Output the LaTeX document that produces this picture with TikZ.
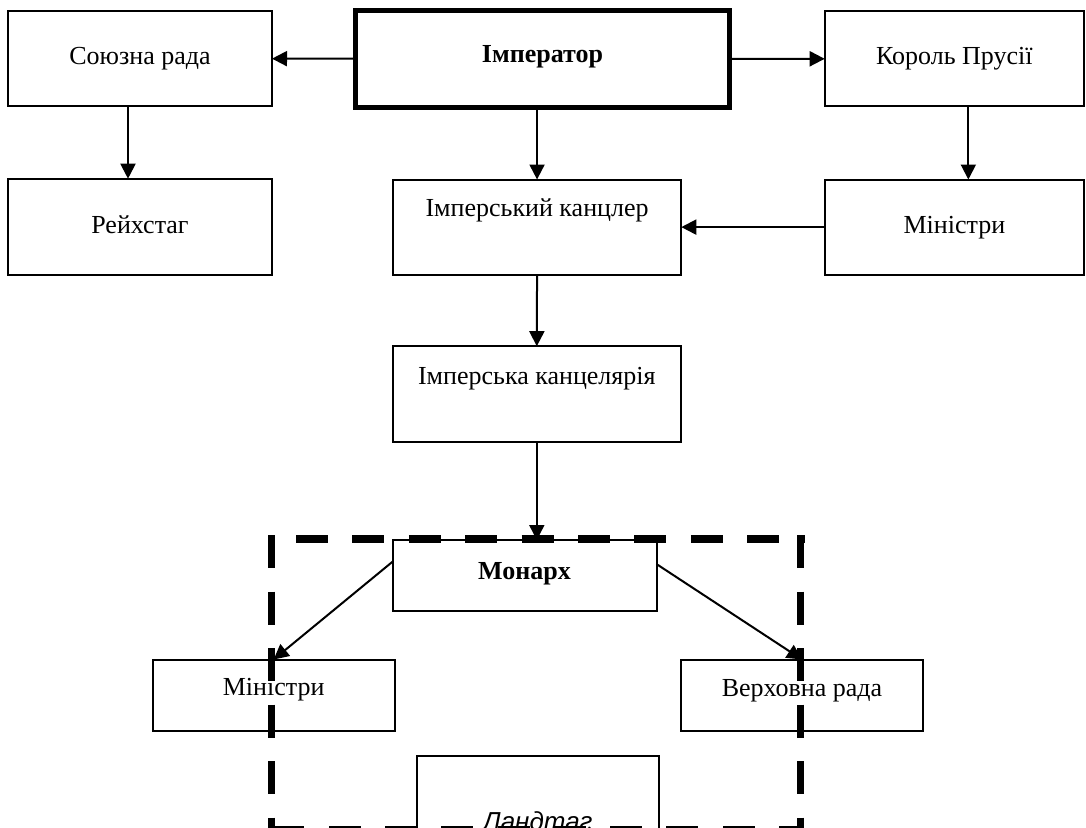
\documentclass[tikz,border=0pt]{standalone}
\usepackage{fontspec}
\setmainfont{Liberation Serif}
\newfontfamily\landfont{Liberation Sans}
\usetikzlibrary{arrows.meta,calc}

\begin{document}
\begin{tikzpicture}[x=1pt,y=-1pt,
  box/.style={draw, line width=2pt, inner sep=0pt, outer sep=0pt,
    text height=20pt, font=\fontsize{26}{31}\selectfont},
  mainbox/.style={box, line width=5pt, font=\fontsize{26}{31}\selectfont\bfseries},
  arr/.style={line width=2pt, -{Triangle[length=15pt,width=15pt]}},
  frame/.style={line width=7.5pt}
]
\useasboundingbox (0,0) rectangle (1086,827);
\clip (0,0) rectangle (1086,827);

% upper level
\node[mainbox, minimum width=374pt, minimum height=96.5pt, text depth=13.5pt]
  (imp) at (542.5,58.75) {Імператор};
\node[box, minimum width=264pt, minimum height=94.7pt, text depth=9.3pt]
  (souz) at (140,58.65) {Союзна рада};
\node[box, minimum width=264pt, minimum height=96pt, text depth=7.4pt]
  (reich) at (140,226.7) {Рейхстаг};
\node[box, minimum width=259.3pt, minimum height=95pt, text depth=9.6pt]
  (king) at (954.35,58.8) {Король Прусії};
\node[box, minimum width=259.3pt, minimum height=95.2pt, text depth=8.2pt]
  (minr) at (954.35,227.1) {Міністри};
\node[box, minimum width=288.5pt, minimum height=95.2pt, text depth=40.8pt]
  (chanc) at (537.05,227.1) {Імперський канцлер};
\node[box, minimum width=288pt, minimum height=96pt, text depth=40.4pt]
  (office) at (536.8,394.2) {Імперська канцелярія};

% lower level
\node[box, minimum width=264pt, minimum height=71.2pt, text depth=13.2pt,
  font=\fontsize{26}{31}\selectfont\bfseries]
  (mon) at (524.5,575.6) {Монарх};
\node[box, minimum width=241.7pt, minimum height=71pt, text depth=19pt]
  (minl) at (273.65,695) {Міністри};
\node[box, minimum width=242pt, minimum height=71pt, text depth=18pt]
  (verh) at (802,695) {Верховна рада};
\node[box, minimum width=242.5pt, minimum height=148pt, text depth=20pt,
  font=\fontsize{26}{31}\landfont\itshape]
  (land) at (537.75,830) {Ландтаг};

% connectors
\draw[arr] (imp.west) -- (souz.east);
\draw[arr] (imp.east) -- (king.west);
\draw[arr] (imp.south -| chanc.north) -- (chanc.north);
\draw[arr] ([xshift=-12pt]souz.south) -- ([xshift=-12pt]reich.north);
\draw[arr] ([xshift=14pt]king.south) -- ([xshift=14pt]minr.north);
\draw[arr] (minr.west) -- (chanc.east);
\draw[arr] (chanc.south) -- (office.north);
\draw[arr] (office.south) -- (office.south |- mon.north);
\draw[arr] (mon.174.6) -- (minl.north);
\draw[arr] (mon.5.4) -- (verh.north);

% dashed frame around the land-level bodies
\draw[frame, dash pattern=on 33pt off 23.5pt] (271.5,535) -- (271.5,836);
\draw[frame, dash pattern=on 33pt off 23.5pt] (800.5,535) -- (800.5,836);
\draw[frame, dash pattern=on 32pt off 24.4pt] (296,539) -- (804,539);
\draw[frame, dash pattern=on 32pt off 24.3pt, dash phase=7pt] (804,829.5) -- (268,829.5);
\end{tikzpicture}
\end{document}
